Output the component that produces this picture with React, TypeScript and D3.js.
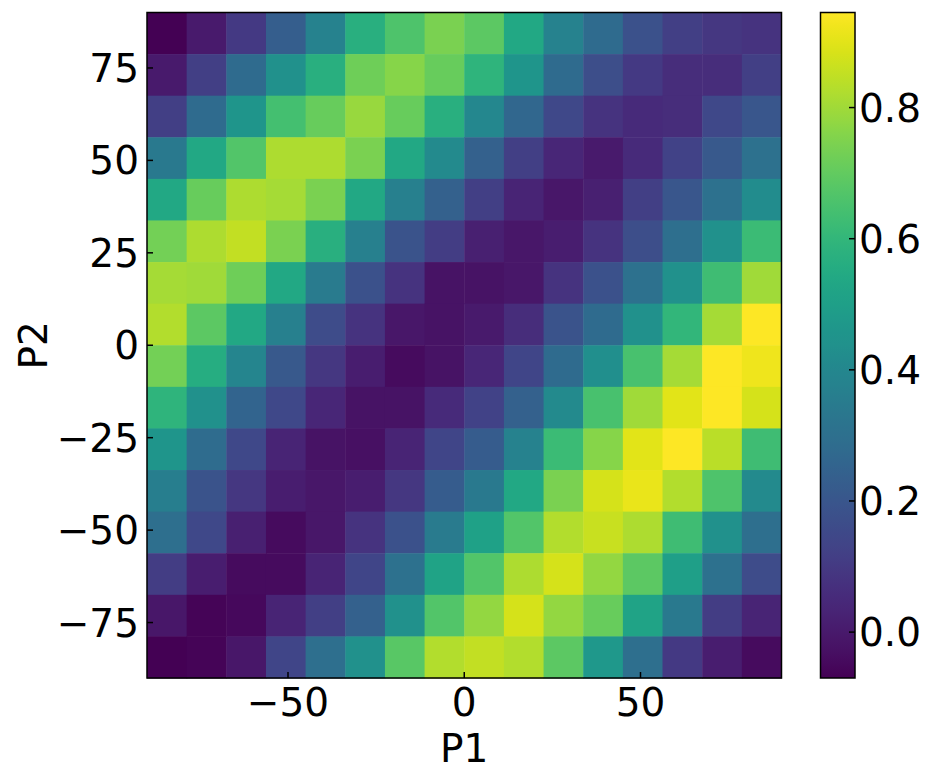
import React from "react";
import * as d3 from "d3";

// Cell centres (degrees)
const p1Centers = [-84.375, -73.125, -61.875, -50.625, -39.375, -28.125, -16.875, -5.625, 5.625, 16.875, 28.125, 39.375, 50.625, 61.875, 73.125, 84.375];
// rows listed from top (P2 = 84.375) to bottom (P2 = -84.375)
const p2Centers = [84.375, 73.125, 61.875, 50.625, 39.375, 28.125, 16.875, 5.625, -5.625, -16.875, -28.125, -39.375, -50.625, -61.875, -73.125, -84.375];
const cellSize = 11.25;

const values: number[][] = [
  [-0.07, 0.00, 0.10, 0.23, 0.38, 0.57, 0.66, 0.74, 0.69, 0.54, 0.38, 0.28, 0.18, 0.12, 0.09, 0.08],
  [0.00, 0.12, 0.28, 0.44, 0.57, 0.72, 0.76, 0.71, 0.59, 0.46, 0.28, 0.17, 0.10, 0.06, 0.06, 0.12],
  [0.12, 0.28, 0.46, 0.64, 0.71, 0.79, 0.71, 0.57, 0.40, 0.265, 0.15, 0.08, 0.05, 0.06, 0.15, 0.20],
  [0.34, 0.54, 0.67, 0.82, 0.82, 0.74, 0.54, 0.41, 0.24, 0.12, 0.04, 0.00, 0.05, 0.13, 0.21, 0.305],
  [0.54, 0.71, 0.82, 0.81, 0.74, 0.54, 0.37, 0.24, 0.12, 0.03, -0.01, 0.02, 0.12, 0.20, 0.305, 0.42],
  [0.73, 0.82, 0.85, 0.74, 0.57, 0.37, 0.19, 0.11, 0.02, -0.01, 0.01, 0.08, 0.17, 0.295, 0.44, 0.62],
  [0.81, 0.80, 0.72, 0.54, 0.35, 0.18, 0.08, -0.02, -0.02, -0.01, 0.08, 0.18, 0.305, 0.44, 0.63, 0.80],
  [0.83, 0.69, 0.54, 0.37, 0.16, 0.08, -0.01, -0.02, 0.00, 0.06, 0.19, 0.28, 0.44, 0.60, 0.81, 0.945],
  [0.73, 0.56, 0.39, 0.21, 0.09, 0.01, -0.04, -0.02, 0.04, 0.14, 0.28, 0.43, 0.65, 0.81, 0.945, 0.92],
  [0.59, 0.44, 0.255, 0.15, 0.04, -0.02, -0.02, 0.05, 0.13, 0.24, 0.41, 0.65, 0.80, 0.90, 0.945, 0.88],
  [0.46, 0.285, 0.15, 0.03, -0.02, -0.03, 0.03, 0.14, 0.22, 0.38, 0.62, 0.76, 0.90, 0.945, 0.84, 0.63],
  [0.36, 0.19, 0.09, 0.01, -0.01, 0.01, 0.09, 0.22, 0.34, 0.54, 0.74, 0.88, 0.91, 0.83, 0.66, 0.41],
  [0.295, 0.15, 0.02, -0.04, -0.01, 0.08, 0.18, 0.35, 0.51, 0.67, 0.83, 0.86, 0.82, 0.63, 0.44, 0.295],
  [0.11, 0.01, -0.04, -0.04, 0.03, 0.14, 0.305, 0.52, 0.67, 0.82, 0.88, 0.78, 0.69, 0.50, 0.305, 0.16],
  [-0.01, -0.06, -0.05, 0.03, 0.12, 0.24, 0.44, 0.67, 0.78, 0.88, 0.78, 0.71, 0.52, 0.34, 0.11, 0.03],
  [-0.07, -0.06, -0.01, 0.14, 0.295, 0.44, 0.68, 0.83, 0.85, 0.83, 0.69, 0.47, 0.295, 0.10, 0.01, -0.04],
];

const xTicks = [-50, 0, 50];
const yTicks = [-75, -50, -25, 0, 25, 50, 75];
const cbTicks = [0.0, 0.2, 0.4, 0.6, 0.8];

const FONT = "DejaVu Sans, sans-serif";
const FS = 39;

export default function App() {
  const left = 147, right = 781.5, top = 12.5, bottom = 678;
  const x = d3.scaleLinear().domain([-90, 90]).range([left, right]);
  const y = d3.scaleLinear().domain([-90, 90]).range([bottom, top]);
  const flat = values.flat();
  const vmin = d3.min(flat) as number;
  const vmax = d3.max(flat) as number;
  const color = d3.scaleSequential(d3.interpolateViridis).domain([vmin, vmax]);

  const cbLeft = 820.5, cbRight = 855, cbTop = 12.5, cbBottom = 678;
  const cy = d3.scaleLinear().domain([vmin, vmax]).range([cbBottom, cbTop]);
  const stops = d3.range(0, 1.0001, 0.02);

  const fmt = (v: number) => (v < 0 ? "\u2212" + Math.abs(v) : String(v));

  return (
    <svg width={936} height={781} style={{ position: "absolute", left: 0, top: 0 }} fontFamily={FONT}>
      <defs>
        <linearGradient id="cbgrad" x1="0" y1="1" x2="0" y2="0">
          {stops.map((s) => (
            <stop key={s} offset={s} stopColor={d3.interpolateViridis(s)} />
          ))}
        </linearGradient>
      </defs>
      <rect x={0} y={0} width={936} height={781} fill="white" />
      {values.map((row, ri) =>
        row.map((v, ci) => {
          const x0 = x(p1Centers[ci] - cellSize / 2);
          const x1 = x(p1Centers[ci] + cellSize / 2);
          const y0 = y(p2Centers[ri] + cellSize / 2);
          const y1 = y(p2Centers[ri] - cellSize / 2);
          return (
            <rect key={`${ri}-${ci}`} x={x0} y={y0} width={x1 - x0 + 0.5} height={y1 - y0 + 0.5} fill={color(v)} />
          );
        })
      )}
      <rect x={left} y={top} width={right - left} height={bottom - top} fill="none" stroke="black" strokeWidth={1.5} />
      {xTicks.map((t) => (
        <g key={`xt${t}`}>
          <line x1={x(t)} x2={x(t)} y1={bottom} y2={bottom - 6} stroke="black" strokeWidth={1.5} />
          <text x={x(t)} y={716} textAnchor="middle" fontSize={FS}>{fmt(t)}</text>
        </g>
      ))}
      {yTicks.map((t) => (
        <g key={`yt${t}`}>
          <line x1={left} x2={left + 6} y1={y(t)} y2={y(t)} stroke="black" strokeWidth={1.5} />
          <text x={139} y={y(t)} dy="0.36em" textAnchor="end" fontSize={FS}>{fmt(t)}</text>
        </g>
      ))}
      <text x={(left + right) / 2} y={762} textAnchor="middle" fontSize={FS}>P1</text>
      <text transform={`translate(47, ${(top + bottom) / 2}) rotate(-90)`} textAnchor="middle" fontSize={FS}>P2</text>

      <rect x={cbLeft} y={cbTop} width={cbRight - cbLeft} height={cbBottom - cbTop} fill="url(#cbgrad)" />
      <rect x={cbLeft} y={cbTop} width={cbRight - cbLeft} height={cbBottom - cbTop} fill="none" stroke="black" strokeWidth={1.5} />
      {cbTicks.map((t) => (
        <g key={`cb${t}`}>
          <line x1={cbRight} x2={cbRight - 6} y1={cy(t)} y2={cy(t)} stroke="black" strokeWidth={1.5} />
          <text x={859} y={cy(t)} dy="0.36em" textAnchor="start" fontSize={FS}>{t.toFixed(1)}</text>
        </g>
      ))}
    </svg>
  );
}
